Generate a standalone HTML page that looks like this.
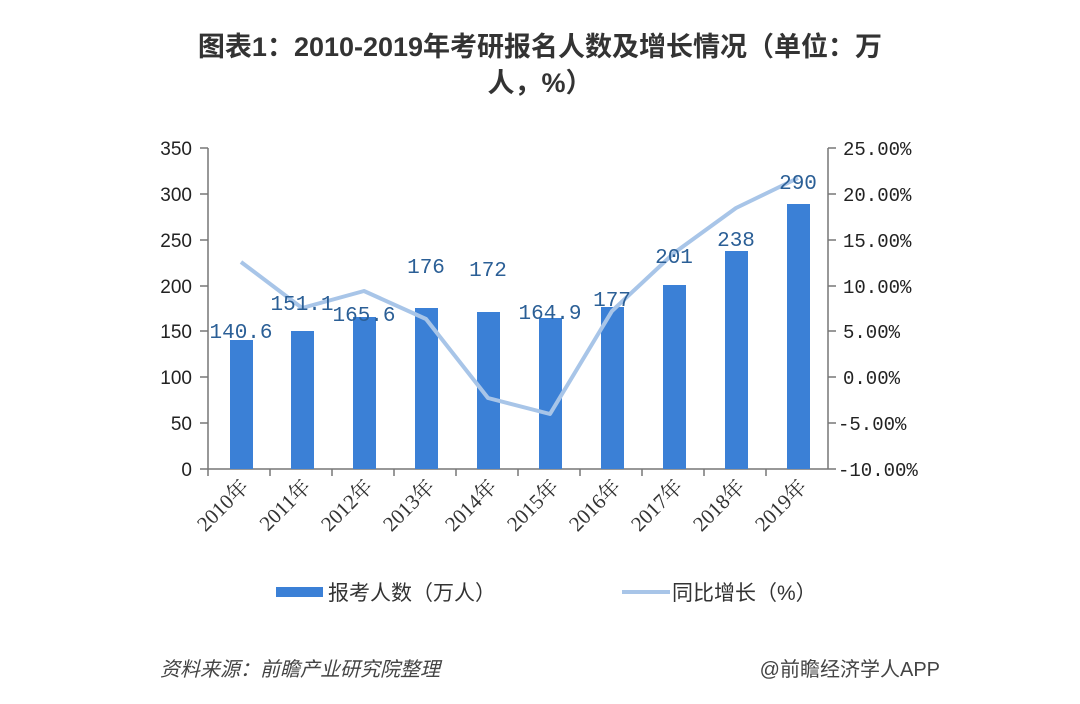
<!DOCTYPE html>
<html><head><meta charset="utf-8"><style>
body{margin:0;background:#fff;}
svg text{font-family:"Liberation Sans","Noto Sans CJK SC",sans-serif;}
svg text.m{font-family:"Liberation Mono",monospace;}
svg text.s{font-family:"Liberation Serif","Noto Serif CJK SC",serif;}
</style></head><body>
<svg width="1080" height="699" viewBox="0 0 1080 699" xmlns="http://www.w3.org/2000/svg">
<text x="540" y="56" text-anchor="middle" font-size="27" font-weight="bold" fill="#333">图表1：2010-2019年考研报名人数及增长情况（单位：万</text>
<text x="540" y="92" text-anchor="middle" font-size="27" font-weight="bold" fill="#333">人，%）</text>
<g stroke="#777" stroke-width="1.5">
<line x1="208" y1="148" x2="208" y2="469"/>
<line x1="828" y1="148" x2="828" y2="469"/>
<line x1="200" y1="469" x2="836" y2="469"/>
</g>
<g stroke="#777" stroke-width="1.5">
<line x1="200" y1="148" x2="208" y2="148"/><line x1="200" y1="194" x2="208" y2="194"/><line x1="200" y1="240" x2="208" y2="240"/><line x1="200" y1="286" x2="208" y2="286"/><line x1="200" y1="331" x2="208" y2="331"/><line x1="200" y1="377" x2="208" y2="377"/><line x1="200" y1="423" x2="208" y2="423"/>
<line x1="828" y1="148" x2="836" y2="148"/><line x1="828" y1="194" x2="836" y2="194"/><line x1="828" y1="240" x2="836" y2="240"/><line x1="828" y1="286" x2="836" y2="286"/><line x1="828" y1="331" x2="836" y2="331"/><line x1="828" y1="377" x2="836" y2="377"/><line x1="828" y1="423" x2="836" y2="423"/>
<line x1="208" y1="469" x2="208" y2="476"/><line x1="270" y1="469" x2="270" y2="476"/><line x1="332" y1="469" x2="332" y2="476"/><line x1="394" y1="469" x2="394" y2="476"/><line x1="456" y1="469" x2="456" y2="476"/><line x1="518" y1="469" x2="518" y2="476"/><line x1="580" y1="469" x2="580" y2="476"/><line x1="642" y1="469" x2="642" y2="476"/><line x1="704" y1="469" x2="704" y2="476"/><line x1="766" y1="469" x2="766" y2="476"/>
</g>
<g font-size="19" fill="#222" text-anchor="end">
<text x="192" y="155">350</text><text x="192" y="201">300</text><text x="192" y="247">250</text><text x="192" y="293">200</text><text x="192" y="338">150</text><text x="192" y="384">100</text><text x="192" y="430">50</text><text x="192" y="476">0</text>
</g>
<g font-size="19" fill="#222">
<text class="m" x="843" y="155">25.00%</text><text class="m" x="843" y="201">20.00%</text><text class="m" x="843" y="247">15.00%</text><text class="m" x="843" y="293">10.00%</text><text class="m" x="843" y="338">5.00%</text><text class="m" x="843" y="384">0.00%</text><text class="m" x="838" y="430">-5.00%</text><text class="m" x="838" y="476">-10.00%</text>
</g>
<g fill="#3b80d6">
<rect x="230" y="340" width="23" height="129"/>
<rect x="291" y="331" width="23" height="138"/>
<rect x="353" y="317" width="23" height="152"/>
<rect x="415" y="308" width="23" height="161"/>
<rect x="477" y="312" width="23" height="157"/>
<rect x="539" y="318" width="23" height="151"/>
<rect x="601" y="307" width="23" height="162"/>
<rect x="663" y="285" width="23" height="184"/>
<rect x="725" y="251" width="23" height="218"/>
<rect x="787" y="204" width="23" height="265"/>
</g>
<polyline points="241,262 302,308 364,291 426,319 488,398 550,414 612,311 674,253 736,208 798,178" fill="none" stroke="#a8c5e8" stroke-width="4" stroke-linejoin="round"/>
<g font-size="21" fill="#2b5f96" text-anchor="middle">
<text class="m" x="241" y="338">140.6</text><text class="m" x="302" y="310">151.1</text><text class="m" x="364" y="321">165.6</text><text class="m" x="426" y="273">176</text><text class="m" x="488" y="276">172</text><text class="m" x="550" y="319">164.9</text><text class="m" x="612" y="306">177</text><text class="m" x="674" y="263">201</text><text class="m" x="736" y="246">238</text><text class="m" x="798" y="189">290</text>
</g>
<g font-size="21" fill="#333" text-anchor="end">
<text class="s" transform="translate(250,488) rotate(-45)">2010年</text>
<text class="s" transform="translate(312,488) rotate(-45)">2011年</text>
<text class="s" transform="translate(374,488) rotate(-45)">2012年</text>
<text class="s" transform="translate(436,488) rotate(-45)">2013年</text>
<text class="s" transform="translate(498,488) rotate(-45)">2014年</text>
<text class="s" transform="translate(560,488) rotate(-45)">2015年</text>
<text class="s" transform="translate(622,488) rotate(-45)">2016年</text>
<text class="s" transform="translate(684,488) rotate(-45)">2017年</text>
<text class="s" transform="translate(746,488) rotate(-45)">2018年</text>
<text class="s" transform="translate(808,488) rotate(-45)">2019年</text>
</g>
<rect x="276" y="587" width="47" height="10" fill="#3b80d6"/>
<text x="328" y="600" font-size="21" fill="#333">报考人数（万人）</text>
<line x1="622" y1="592" x2="670" y2="592" stroke="#a8c5e8" stroke-width="4"/>
<text x="672" y="600" font-size="21" fill="#333">同比增长（%）</text>
<text x="160" y="676" font-size="20" fill="#444" font-style="italic">资料来源：前瞻产业研究院整理</text>
<text x="940" y="676" font-size="20" fill="#444" text-anchor="end">@前瞻经济学人APP</text>
</svg>
</body></html>
